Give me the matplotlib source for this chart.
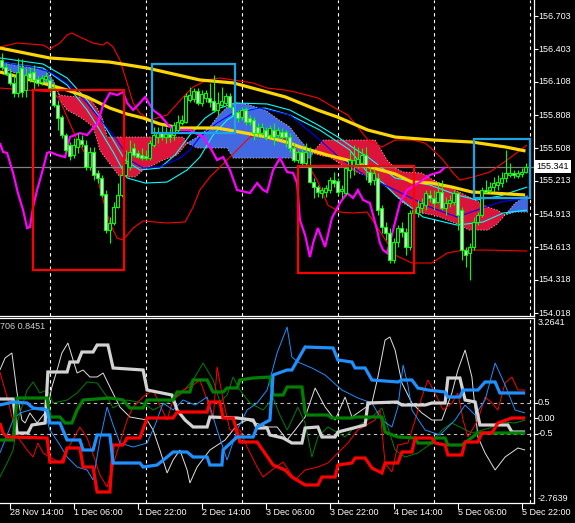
import matplotlib
matplotlib.use('Agg')
import matplotlib.pyplot as plt
import numpy as np
from matplotlib.patches import Rectangle

plt.rcParams['font.family'] = ['Liberation Sans', 'DejaVu Sans']

# ---- main window: H1 candles (bar index 0..131) ----
opens = [156.306, 156.242, 156.188, 156.098, 156.007, 156.233, 156.034, 156.188, 156.197, 156.134,
         156.107, 156.134, 156.125, 156.052, 155.899, 155.790, 155.627, 155.537, 155.447, 155.519,
         155.582, 155.537, 155.338, 155.474, 155.284, 155.239, 155.094, 154.768, 154.832, 154.976,
         155.085, 155.266, 155.338, 155.510, 155.465, 155.447, 155.437, 155.419, 155.537, 155.609,
         155.645, 155.609, 155.636, 155.627, 155.672, 155.736, 155.745, 155.944, 155.953, 156.025,
         155.917, 155.962, 155.962, 155.935, 155.853, 155.899, 155.917, 155.980, 155.881, 155.835,
         155.790, 155.853, 155.781, 155.763, 155.700, 155.645, 155.672, 155.627, 155.672, 155.627,
         155.654, 155.654, 155.609, 155.510, 155.401, 155.474, 155.374, 155.338, 155.202, 155.157,
         155.103, 155.112, 155.130, 155.220, 155.211, 155.121, 155.103, 155.311, 155.356, 155.365,
         155.374, 155.447, 155.293, 155.220, 155.239, 154.967, 154.795, 154.741, 154.497, 154.660,
         154.786, 154.750, 154.615, 154.922, 154.922, 154.967, 154.994, 155.085, 155.058, 155.021,
         155.112, 154.967, 155.012, 155.021, 155.103, 154.949, 154.587, 154.560, 154.615, 154.841,
         154.904, 155.130, 155.130, 155.157, 155.175, 155.193, 155.239, 155.266, 155.284, 155.257,
         155.275, 155.293]
closes = [156.242, 156.179, 156.098, 156.007, 156.197, 156.016, 156.170, 156.143, 156.125, 156.098,
          156.143, 156.161, 156.052, 155.899, 155.781, 155.627, 155.492, 155.437, 155.537, 155.591,
          155.546, 155.338, 155.474, 155.266, 155.239, 155.085, 154.768, 154.832, 154.976, 155.085,
          155.266, 155.374, 155.474, 155.447, 155.428, 155.419, 155.419, 155.555, 155.627, 155.645,
          155.609, 155.636, 155.609, 155.718, 155.745, 155.763, 155.980, 155.989, 156.025, 155.917,
          155.998, 156.007, 155.926, 155.853, 155.917, 155.935, 155.980, 155.881, 155.808, 155.781,
          155.853, 155.745, 155.745, 155.645, 155.645, 155.700, 155.609, 155.691, 155.609, 155.672,
          155.609, 155.609, 155.510, 155.401, 155.474, 155.374, 155.474, 155.202, 155.157, 155.112,
          155.130, 155.148, 155.220, 155.193, 155.112, 155.139, 155.329, 155.401, 155.401, 155.410,
          155.447, 155.356, 155.202, 155.284, 154.949, 154.795, 154.741, 154.497, 154.660, 154.786,
          154.750, 154.615, 154.922, 154.949, 154.976, 155.012, 155.103, 155.058, 155.012, 155.112,
          154.967, 155.012, 155.040, 155.103, 154.904, 154.587, 154.542, 154.615, 154.841, 154.904,
          155.130, 155.112, 155.157, 155.193, 155.202, 155.239, 155.284, 155.284, 155.266, 155.284,
          155.293, 155.341]
highs = [156.369, 156.278, 156.233, 156.170, 156.324, 156.315, 156.233, 156.242, 156.260, 156.161,
         156.170, 156.197, 156.143, 156.098, 155.944, 155.808, 155.645, 155.564, 155.600, 155.645,
         155.627, 155.582, 155.519, 155.519, 155.311, 155.266, 155.130, 154.886, 155.021, 155.193,
         155.356, 155.492, 155.582, 155.555, 155.492, 155.510, 155.492, 155.582, 155.700, 155.700,
         155.718, 155.700, 155.691, 155.745, 155.808, 155.808, 156.007, 156.061, 156.052, 156.052,
         156.034, 156.034, 156.098, 156.170, 156.016, 156.061, 156.007, 156.007, 155.899, 155.853,
         155.881, 155.881, 155.808, 155.790, 155.736, 155.736, 155.700, 155.718, 155.736, 155.700,
         155.691, 155.672, 155.645, 155.555, 155.492, 155.510, 155.555, 155.519, 155.239, 155.175,
         155.157, 155.175, 155.248, 155.293, 155.239, 155.175, 155.356, 155.492, 155.537, 155.519,
         155.510, 155.519, 155.356, 155.329, 155.284, 154.994, 154.841, 154.786, 154.696, 154.813,
         154.841, 154.786, 154.949, 154.994, 155.040, 155.058, 155.130, 155.130, 155.130, 155.202,
         155.220, 155.067, 155.085, 155.130, 155.112, 154.976, 154.615, 154.651, 154.886, 154.931,
         155.157, 155.220, 155.202, 155.248, 155.266, 155.293, 155.492, 155.374, 155.311, 155.311,
         155.329, 155.374]
lows = [156.215, 156.170, 156.079, 155.971, 155.971, 155.971, 155.971, 156.107, 156.034, 156.070,
        156.079, 156.107, 156.016, 155.881, 155.672, 155.600, 155.474, 155.401, 155.419, 155.465,
        155.519, 155.311, 155.311, 155.220, 155.193, 155.067, 154.741, 154.651, 154.813, 154.967,
        155.067, 155.248, 155.311, 155.428, 155.419, 155.401, 155.401, 155.401, 155.519, 155.555,
        155.582, 155.555, 155.564, 155.582, 155.654, 155.718, 155.736, 155.926, 155.926, 155.899,
        155.890, 155.926, 155.881, 155.835, 155.808, 155.881, 155.899, 155.871, 155.790, 155.745,
        155.763, 155.718, 155.718, 155.582, 155.609, 155.627, 155.582, 155.600, 155.537, 155.600,
        155.582, 155.519, 155.474, 155.383, 155.374, 155.338, 155.338, 155.193, 155.058, 155.067,
        155.058, 155.067, 155.103, 155.157, 155.085, 155.058, 155.085, 155.239, 155.266, 155.329,
        155.338, 155.220, 155.175, 155.175, 154.904, 154.741, 154.678, 154.470, 154.470, 154.615,
        154.705, 154.542, 154.587, 154.877, 154.886, 154.922, 154.949, 155.021, 154.949, 155.012,
        154.949, 154.904, 154.976, 154.994, 154.768, 154.497, 154.434, 154.316, 154.587, 154.813,
        154.886, 155.103, 155.103, 155.112, 155.130, 155.157, 155.202, 155.248, 155.239, 155.239,
        155.248, 155.284]
last_price = 155.341

# ---- main window indicator lines: (bar, price) ----
ma_slow = [(-0.4, 156.414), (12, 156.324), (27, 156.287), (36.4, 156.233), (49.6, 156.125), (58, 156.098),
           (71, 155.971), (79, 155.853), (84, 155.790), (91.6, 155.672), (98.4, 155.609), (108, 155.582),
           (117.6, 155.564), (126, 155.519), (131, 155.483)]
ma_fast = [(-0.4, 156.197), (12.1, 156.079), (16.4, 156.034), (21.4, 155.971), (27.1, 155.871), (31.4, 155.817),
           (35.4, 155.781), (39.6, 155.727), (44.6, 155.691), (53.9, 155.691), (59.6, 155.654), (66.4, 155.609),
           (72.1, 155.555), (74.6, 155.519), (81.4, 155.447), (86.4, 155.401), (92.1, 155.338), (98.4, 155.275),
           (102.6, 155.202), (107.6, 155.193), (112.6, 155.157), (117.6, 155.112), (122.6, 155.103), (130.9, 155.085)]
cyan_up = [(-0.4, 156.324), (10.4, 156.269), (16.4, 156.143), (21.4, 155.944), (24.6, 155.781), (27.9, 155.582),
           (30.9, 155.401), (34.6, 155.311), (39.6, 155.329), (43.4, 155.447), (47.1, 155.627), (50.9, 155.781),
           (54.6, 155.871), (58.4, 155.917), (66.4, 155.908), (72.1, 155.853), (79.1, 155.718), (84.1, 155.609),
           (87.6, 155.519), (91.6, 155.428), (98.4, 155.239), (107.1, 155.175), (113.9, 155.085), (118.9, 155.040),
           (124.6, 155.076), (131.4, 155.157)]
blue_ma = [(-0.4, 156.287), (7.9, 156.242), (12.1, 156.197), (16.4, 156.098), (21.4, 155.917), (25.4, 155.736),
           (28.9, 155.582), (32.1, 155.401), (35.4, 155.329), (39.6, 155.338), (44.6, 155.419), (47.1, 155.492),
           (49.6, 155.609), (53.9, 155.736), (57.9, 155.826), (64.6, 155.871), (72.1, 155.808), (79.6, 155.582),
           (84.6, 155.419), (91.4, 155.248), (98.4, 155.130), (107.1, 154.976), (113.9, 154.886), (118.9, 154.949),
           (124.6, 155.021), (131.4, 155.058)]
cyan_lo = [(-0.4, 156.287), (10.4, 156.233), (16.4, 156.079), (21.4, 155.853), (24.6, 155.672), (27.9, 155.474),
           (31.4, 155.239), (35.9, 155.193), (41.4, 155.202), (46.4, 155.311), (49.6, 155.428), (52.9, 155.627),
           (56.4, 155.763), (60.4, 155.853), (65.9, 155.871), (72.1, 155.808), (79.6, 155.672), (87.1, 155.492),
           (91.4, 155.293), (95.4, 155.193), (98.4, 155.085), (105.4, 154.886), (113.9, 154.813), (120.4, 154.841),
           (125.4, 154.922), (131.4, 154.949)]
band_up = [(-0.4, 156.423), (3.9, 156.459), (10.4, 156.441), (12.1, 156.405), (14.6, 156.459), (16.4, 156.532),
           (17.6, 156.550), (19.6, 156.513), (22.9, 156.459), (25.4, 156.441), (26.4, 156.468), (27.9, 156.423),
           (29.6, 156.306), (31.4, 156.098), (32.9, 155.917), (34.6, 155.826), (37.1, 155.763), (41.4, 155.808),
           (45.4, 155.971), (47.9, 156.061), (51.4, 156.125), (54.6, 156.143), (57.9, 156.125), (62.9, 156.098),
           (66.4, 156.052), (70.9, 156.034), (73.4, 156.016), (79.1, 155.962), (83.4, 155.871), (86.6, 155.808),
           (89.1, 155.700), (91.6, 155.582), (95.1, 155.519), (98.4, 155.582), (102.6, 155.582), (105.9, 155.555),
           (107.9, 155.492), (110.4, 155.401), (112.9, 155.284), (114.6, 155.220), (117.9, 155.248), (122.1, 155.293),
           (126.4, 155.401), (131.4, 155.537)]
band_lo = [(-0.4, 156.052), (6.4, 156.034), (12.9, 156.016), (14.6, 155.944), (16.4, 155.790), (18.9, 155.582),
           (21.4, 155.428), (23.9, 155.248), (25.4, 155.040), (27.1, 154.832), (28.9, 154.696), (30.4, 154.678),
           (32.9, 154.786), (35.4, 154.850), (41.4, 154.832), (45.9, 154.841), (47.9, 154.976), (49.6, 155.130),
           (52.1, 155.248), (56.4, 155.401), (62.1, 155.609), (67.1, 155.672), (71.4, 155.582), (75.4, 155.428),
           (78.9, 155.220), (81.6, 154.994), (84.6, 154.931), (87.9, 154.922), (91.4, 154.931), (94.1, 154.786),
           (98.4, 154.542), (102.6, 154.470), (107.6, 154.470), (111.4, 154.560), (115.4, 154.587), (122.1, 154.587),
           (131.4, 154.578)]
magenta = [(-0.4, 155.555), (0.4, 155.474), (1.4, 155.465), (2.9, 155.284), (4.1, 155.103), (5.4, 154.949),
           (6.4, 154.786), (7.1, 154.795), (7.9, 154.976), (8.9, 155.130), (10.1, 155.284), (11.4, 155.465),
           (12.1, 155.474), (13.9, 155.447), (15.9, 155.428), (17.1, 155.609), (19.6, 155.645), (21.4, 155.627),
           (22.9, 155.691), (24.1, 155.736), (25.4, 155.899), (27.1, 156.007), (28.9, 155.989), (30.4, 156.016),
           (31.4, 155.917), (32.9, 155.853), (34.6, 155.917), (35.9, 155.971), (37.9, 155.853), (39.6, 155.808),
           (42.1, 155.700), (43.9, 155.672), (47.1, 155.672), (50.4, 155.609), (52.1, 155.519), (53.9, 155.401),
           (55.4, 155.428), (57.1, 155.311), (58.9, 155.130), (62.1, 155.103), (63.9, 155.193), (65.4, 155.130),
           (66.4, 155.112), (67.9, 155.311), (69.6, 155.419), (71.4, 155.293), (72.9, 155.284), (73.9, 155.193),
           (74.6, 154.859), (75.9, 154.723), (77.1, 154.524), (77.9, 154.651), (79.1, 154.786), (80.9, 154.615),
           (82.6, 154.877), (84.6, 155.012), (86.4, 155.103), (87.9, 155.058), (89.1, 155.130), (90.4, 155.040),
           (92.1, 155.012), (93.9, 154.768), (94.6, 154.651), (95.4, 154.587), (96.4, 154.560), (97.9, 154.768),
           (99.6, 155.012), (101.4, 155.130), (102.6, 155.157), (104.6, 155.202), (107.1, 155.266), (109.6, 155.293),
           (110.9, 155.338)]

# cloud spans on a shared bar grid
cloud_k = [-0.4, 4.6, 7.9, 10.9, 12.9, 13.9, 14.6, 16.4, 19.6, 21.4, 22.9, 23.9, 24.6, 25.4, 26.4, 29.6, 33.4,
           35.4, 40.4, 43.9, 45.4, 46.4, 48.9, 52.1, 53.9, 56.4, 57.9, 58.9, 62.1, 65.9, 69.4, 72.1, 74.6, 77.1,
           78.4, 80.4, 82.1, 85.9, 89.4, 93.4, 96.4, 98.4, 100.4, 105.1, 107.9, 109.6, 113.4, 116.9, 121.6,
           123.9, 125.9, 128.4, 131.6]
span_a = [156.287, 156.251, 156.233, 156.215, 156.125, 156.034, 155.944, 155.853, 155.790, 155.745, 155.700,
          155.582, 155.492, 155.447, 155.401, 155.248, 155.248, 155.311, 155.401, 155.447, 155.510, 155.555,
          155.609, 155.700, 155.790, 155.881, 155.908, 155.917, 155.899, 155.853, 155.763, 155.700, 155.582,
          155.483, 155.456, 155.437, 155.428, 155.338, 155.284, 155.220, 155.157, 155.085, 155.012, 154.922,
          154.904, 154.886, 154.832, 154.768, 154.768, 154.823, 154.904, 155.012, 155.085]
span_b = [156.242, 156.170, 156.125, 156.107, 156.079, 156.034, 155.989, 155.980, 155.971, 155.971, 155.917,
          155.871, 155.817, 155.763, 155.609, 155.609, 155.609, 155.609, 155.609, 155.609, 155.609, 155.555,
          155.510, 155.510, 155.510, 155.510, 155.419, 155.419, 155.419, 155.419, 155.419, 155.419, 155.419,
          155.419, 155.492, 155.582, 155.582, 155.582, 155.582, 155.582, 155.401, 155.329, 155.293, 155.284,
          155.220, 155.193, 155.130, 155.067, 154.976, 154.949, 154.904, 154.931, 154.931]

# drawn boxes: (bar from, bar to, price low, price high)
red_boxes = [(7.9, 30.6, 154.407, 156.034), (74.1, 103.1, 154.380, 155.347)]
blue_boxes = [(37.6, 58.4, 155.645, 156.269), (118.1, 132.1, 155.058, 155.591)]

price_ticks = [156.703, 156.403, 156.108, 155.808, 155.508, 155.213, 154.913, 154.613, 154.318, 154.018]
day_breaks = [12, 36, 60, 84, 108, 132]
time_ticks = [-14, 2, 18, 34, 50, 66, 82, 98, 114, 130]
time_labels = ['27 Nov 22:00', '28 Nov 14:00', '1 Dec 06:00', '1 Dec 22:00', '2 Dec 14:00',
               '3 Dec 06:00', '3 Dec 22:00', '4 Dec 14:00', '5 Dec 06:00', '5 Dec 22:00']

# ---- lower window: (bar, value) ----
gray_thick = [(-0.4, 0.625), (2.9, 0.625), (3.9, -0.483), (6.6, -0.483), (7.6, -0.222), (10.9, -0.157),
              (11.6, 1.505), (16.4, 1.505), (17.1, 1.830), (19.1, 1.830), (20.1, 2.156), (22.9, 2.156),
              (23.9, 2.384), (26.6, 2.384), (27.9, 1.635), (35.4, 1.570), (36.4, 0.918), (42.6, 0.755),
              (43.9, 0.266), (45.9, -0.060), (47.9, -0.287), (51.4, -0.287), (52.1, 0.038), (58.9, 0.006),
              (62.9, -0.060), (63.9, -0.320), (66.4, -0.320), (67.1, -0.548), (70.4, -0.646), (72.6, -0.809),
              (75.1, -0.809), (75.9, -0.320), (79.1, -0.287), (80.1, -0.613), (83.4, -0.613), (84.1, -0.451),
              (90.9, -0.222), (91.6, 0.494), (98.9, 0.527), (100.1, 0.429), (105.9, 0.429), (107.6, 0.494),
              (110.9, 0.494), (111.6, 1.309), (114.6, 1.309), (115.9, 0.592), (118.4, 0.527), (119.6, -0.222),
              (126.6, -0.222), (127.6, -0.451), (130.9, -0.451)]
green_thick = [(-0.4, -0.711), (2.9, -0.711), (3.9, 0.657), (11.4, 0.657), (12.1, 0.038), (14.6, 0.038),
               (15.9, -0.157), (17.6, -0.157), (18.9, 0.266), (20.4, 0.592), (27.1, 0.657), (30.4, 0.592),
               (32.1, 0.332), (35.4, 0.332), (36.4, 0.592), (42.9, 0.592), (43.9, 0.853), (47.1, 0.853),
               (47.9, 1.244), (51.4, 1.244), (52.9, 0.853), (55.4, 0.853), (56.4, 0.983), (58.9, 0.983),
               (59.6, 1.244), (62.9, 1.309), (67.1, 1.342), (67.9, 0.755), (70.4, 0.755), (71.4, 1.016),
               (75.1, 1.016), (75.9, 0.169), (76.6, 0.103), (81.6, 0.103), (82.6, 0.006), (87.6, 0.006),
               (88.4, 0.038), (95.1, 0.038), (95.9, -0.451), (99.1, -0.613), (103.4, -0.646), (104.1, -0.809),
               (107.6, -0.809), (108.4, -0.646), (110.9, -0.646), (111.6, -0.874), (115.1, -0.874),
               (119.1, -0.483), (130.9, -0.483)]
red_thick = [(-0.4, -0.157), (0.4, -0.483), (1.4, -0.613), (11.4, -0.646), (12.1, -1.428), (15.4, -1.428),
             (16.4, -0.972), (19.6, -0.972), (20.4, -1.591), (22.9, -1.591), (23.9, -2.405), (27.1, -2.405),
             (27.9, -0.874), (30.4, -0.874), (31.4, -0.646), (34.6, -0.646), (36.4, 0.006), (42.9, 0.006),
             (43.9, 0.201), (51.4, 0.201), (52.1, 0.527), (54.6, 0.527), (55.4, 0.006), (57.9, 0.006),
             (59.6, -0.776), (63.9, -0.776), (67.9, -1.526), (70.9, -1.689), (72.6, -1.917), (75.1, -2.112),
             (75.9, -2.177), (79.1, -2.177), (80.1, -1.917), (83.4, -1.917), (84.1, -1.526), (87.6, -1.461),
             (88.4, -1.298), (90.9, -1.298), (92.6, -1.624), (95.1, -1.786), (95.9, -1.461), (99.1, -1.461),
             (100.1, -1.102), (102.6, -1.102), (103.4, -0.646), (107.6, -0.646), (108.4, -0.809),
             (110.9, -0.874), (111.6, -1.200), (115.1, -1.200), (115.9, -0.776), (119.1, -0.776),
             (120.1, -0.483), (122.6, -0.483), (124.1, -0.157), (127.6, 0.006), (130.9, 0.006)]
blue_thick = [(-0.4, 0.429), (2.9, 0.527), (6.4, 0.494), (7.9, 0.332), (11.4, 0.266), (12.1, -0.157),
              (14.6, -0.157), (16.4, -0.711), (19.6, -0.711), (20.4, -1.037), (22.9, -1.037), (23.9, -0.548),
              (27.1, -0.548), (27.9, -1.461), (34.6, -1.461), (35.4, -1.591), (38.9, -1.526), (41.4, -1.265),
              (42.9, -1.102), (46.4, -1.102), (47.9, -1.265), (51.4, -1.265), (52.1, -1.526), (55.1, -1.526),
              (55.4, -1.037), (58.9, -0.613), (62.9, -0.613), (63.9, -0.287), (67.1, -0.060), (67.9, 1.407),
              (71.4, 1.570), (72.6, 1.570), (75.9, 2.319), (82.9, 2.287), (84.1, 1.896), (87.6, 1.830),
              (88.4, 1.635), (90.9, 1.635), (92.6, 1.244), (99.1, 1.179), (100.1, 1.244), (102.6, 1.244),
              (104.1, 0.983), (106.6, 0.918), (110.9, 0.853), (111.6, 0.690), (114.6, 0.690), (115.4, 0.918),
              (119.1, 0.918), (120.9, 1.179), (123.4, 1.179), (124.6, 0.821), (130.9, 0.821)]
gray_thin = [(-0.4, 1.570), (0.9, 1.961), (2.6, 2.124), (3.9, 0.821), (5.1, -0.060), (5.9, -0.157), (7.1, 0.169),
             (8.9, -0.157), (11.4, 0.266), (12.6, 1.016), (13.9, 1.570), (15.1, 2.124), (16.6, 2.449),
             (17.9, 1.896), (18.9, 1.472), (20.4, 1.570), (22.1, 1.342), (23.9, 1.342), (25.4, 1.472),
             (27.1, 1.016), (29.6, 0.364), (32.1, 0.038), (36.4, -0.060), (37.9, -0.385), (39.6, -1.037),
             (41.4, -1.786), (42.9, -1.363), (44.6, -1.037), (46.4, -1.689), (47.1, -2.112), (48.9, -1.591),
             (52.1, -1.037), (55.9, -0.711), (58.9, -0.222), (61.4, -0.060), (66.4, -0.287), (68.9, -0.287),
             (71.4, -0.711), (73.4, -0.385), (75.9, 0.038), (78.4, 0.983), (80.9, 0.364), (83.4, -0.060),
             (85.9, 0.690), (87.6, 0.038), (92.6, 0.494), (94.1, 1.342), (95.9, 2.547), (97.1, 2.645),
             (98.4, 2.221), (100.1, 1.146), (102.6, 0.494), (105.1, 0.169), (107.6, -0.060), (110.1, -0.060),
             (112.6, 0.821), (114.1, 1.570), (115.9, 2.221), (117.6, 1.342), (119.1, -0.613), (120.9, -1.135),
             (123.4, -1.689), (125.9, -1.265), (129.1, -0.972), (130.9, -1.037)]
green_thin = [(-0.4, -1.917), (1.4, -1.461), (2.9, -1.037), (4.1, -0.060), (6.4, 0.918), (7.9, 1.179),
              (9.6, 0.821), (11.4, 0.918), (12.9, 0.494), (16.4, 0.592), (18.9, 0.821), (21.4, 1.179),
              (23.9, 1.146), (26.4, 0.690), (27.9, 0.332), (31.4, 0.592), (35.4, 0.494), (37.9, 0.266),
              (41.4, 0.494), (44.6, 0.755), (47.9, 1.244), (50.4, 1.798), (52.9, 1.244), (54.6, 0.527),
              (56.4, 0.755), (57.9, 1.342), (59.6, 0.918), (62.1, 0.494), (65.4, 0.266), (67.9, 0.657),
              (69.6, 0.103), (71.4, -0.385), (72.6, -0.060), (74.1, 0.364), (75.9, -0.157), (77.6, -1.265),
              (79.1, -0.613), (81.6, -0.287), (85.9, -0.613), (87.6, -0.385), (92.6, 0.038), (95.1, 0.332),
              (96.4, -0.222), (98.4, -1.037), (100.9, -1.265), (104.1, -1.135), (107.6, -0.809),
              (110.1, -0.385), (112.6, -0.157), (115.1, -0.320), (117.6, -0.483), (122.1, -0.320),
              (125.1, -0.125), (128.4, -0.157), (130.9, -0.060)]
red_thin = [(-0.4, 1.505), (1.6, 0.592), (3.4, -0.385), (4.6, -0.711), (6.4, -1.037), (7.9, -1.265), (9.1, -0.809),
            (10.4, -1.135), (12.1, -1.265), (14.6, -1.461), (17.1, -0.874), (19.6, -0.287), (21.4, -0.646),
            (23.4, -1.363), (24.6, -1.851), (26.4, -2.242), (27.9, -1.526), (29.6, -0.809), (31.4, -0.060),
            (32.9, 0.364), (35.4, 0.690), (37.9, 0.918), (39.6, 0.429), (41.4, -0.060), (42.9, 0.592),
            (45.4, 0.918), (47.9, 1.081), (49.6, 1.244), (51.4, 0.592), (52.9, -0.060), (53.9, 1.668),
            (55.4, 0.592), (57.1, -0.385), (59.6, -0.385), (61.4, -0.939), (63.9, -1.591), (65.4, -1.917),
            (67.6, -1.689), (70.4, -1.428), (73.4, -2.014), (75.9, -1.689), (79.1, -1.591), (81.6, -1.461),
            (84.1, -1.135), (86.6, -0.809), (89.1, -0.385), (93.4, -0.060), (94.6, 0.266), (95.9, -1.461),
            (97.6, -1.754), (99.1, -0.874), (101.6, -0.809), (103.4, -0.060), (105.1, 0.690), (106.6, 1.244),
            (108.4, 0.821), (110.4, 0.266), (112.6, 0.494), (114.1, 0.821), (115.4, -0.060), (116.6, -0.613),
            (119.1, -0.060), (120.9, 0.690), (122.6, 0.494), (124.1, 0.266), (125.9, 1.146), (127.6, 1.342),
            (129.1, 0.918), (130.9, 0.918)]
blue_thin = [(-0.4, -1.135), (1.4, -0.548), (2.9, -0.060), (4.6, 0.169), (7.1, 0.266), (10.4, 0.364),
             (12.1, -0.385), (14.6, -0.874), (16.4, -1.265), (18.9, -1.591), (21.4, -1.689), (22.9, -2.014),
             (24.6, -0.711), (26.4, 0.364), (27.9, -0.222), (29.6, -0.809), (32.9, -0.939), (36.4, -0.809),
             (38.4, -0.222), (40.4, 0.494), (42.9, 0.266), (45.4, 0.592), (48.4, 0.429), (51.4, 0.690),
             (53.9, -0.385), (56.4, -1.363), (58.9, -0.385), (61.4, 0.266), (63.9, 0.494), (66.4, 0.918),
             (68.9, 2.124), (71.4, 2.971), (72.6, 1.993), (74.1, 1.830), (77.6, 1.635), (80.9, 1.407),
             (85.1, 0.918), (89.1, 0.657), (92.6, 0.494), (95.1, -0.060), (97.6, -0.287), (99.1, 0.364),
             (100.4, 1.733), (101.6, 1.081), (102.6, 0.266), (105.9, -0.385), (109.6, -0.548), (113.4, -0.060),
             (115.9, 0.429), (118.4, 0.103), (120.9, 0.592), (123.4, 1.798), (125.9, 1.081), (128.4, 0.266),
             (130.9, 0.169)]
sub_max, sub_min = 3.2641, -2.7639
sub_levels = [0.5, -0.5]
sub_caption = '706 0.8451'

# ---------------------------------------------------------------
W, H = 575, 523
fig = plt.figure(figsize=(W / 100, H / 100), dpi=100, facecolor='black')
ax = fig.add_axes([0, 1 - 316 / H, 534 / W, 316 / H], facecolor='black')
ax2 = fig.add_axes([0, 1 - 503 / H, 534 / W, 185 / H], facecolor='black')

xlim = (-0.375, 133.125)
fs = 6.5
lime = '#00FF00'

def pl(a, pts, **kw):
    x, y = zip(*pts)
    a.plot(x, y, solid_capstyle='butt', solid_joinstyle='miter', **kw)

# cloud
ck = np.array(cloud_k)
sa = np.array(span_a)
sb = np.array(span_b)
ax.fill_between(ck, sa, sb, where=sa >= sb, interpolate=True, color='#4169E1', lw=0, zorder=1)
ax.fill_between(ck, sa, sb, where=sa < sb, interpolate=True, color='#DC143C', lw=0, zorder=1)
ax.plot(ck, sa, color='#E8B8A8', lw=0.6, ls=(0, (1.5, 2)), zorder=1.2)
ax.plot(ck, sb, color='#E8B8A8', lw=0.6, ls=(0, (1.5, 2)), zorder=1.2)

ax.axhline(last_price, color='#808080', lw=0.9, zorder=1.5)
for d in day_breaks:
    ax.axvline(d, color='white', lw=0.8, ls=(0, (3, 3)), zorder=0.5)
    ax2.axvline(d, color='white', lw=0.8, ls=(0, (3, 3)), zorder=0.5)

pl(ax, band_up, color='#FF0000', lw=0.8, zorder=2)
pl(ax, band_lo, color='#FF0000', lw=0.8, zorder=2)
pl(ax, cyan_up, color='#00FFFF', lw=0.8, zorder=2)
pl(ax, cyan_lo, color='#00FFFF', lw=0.8, zorder=2)
pl(ax, blue_ma, color='#0000FF', lw=0.8, zorder=2)
pl(ax, ma_slow, color='#FFD700', lw=2.3, zorder=2.5)
pl(ax, ma_fast, color='#FFD700', lw=2.3, zorder=2.5)
pl(ax, magenta, color='#FF00FF', lw=1.6, zorder=2.6)

# candles
o = np.array(opens)
c = np.array(closes)
bars = np.arange(len(o))
ax.vlines(bars, lows, highs, color=lime, lw=0.8, zorder=3)
body = np.maximum(np.abs(c - o), 0.002)
fills = np.where(c < o, 'white', 'black')
ax.bar(bars, body, bottom=np.minimum(o, c), width=0.6, color=fills,
       edgecolor=lime, linewidth=0.8, zorder=3.2)

for x0, x1, y0, y1 in red_boxes:
    ax.add_patch(Rectangle((x0, y0), x1 - x0, y1 - y0, fill=False, ec='#FF0000', lw=1.6, zorder=4))
for x0, x1, y0, y1 in blue_boxes:
    ax.add_patch(Rectangle((x0, y0), x1 - x0, y1 - y0, fill=False, ec='#1AA6E6', lw=1.6, zorder=4))

# lower window
pl(ax2, gray_thin, color='#E0E0E0', lw=0.7, zorder=2)
pl(ax2, green_thin, color='#008000', lw=0.7, zorder=2)
pl(ax2, red_thin, color='#FF0000', lw=0.7, zorder=2)
pl(ax2, blue_thin, color='#1E90FF', lw=0.7, zorder=2)
pl(ax2, gray_thick, color='#D3D3D3', lw=2.3, zorder=3)
pl(ax2, green_thick, color='#008000', lw=2.3, zorder=3)
pl(ax2, red_thick, color='#FF0000', lw=2.3, zorder=3)
pl(ax2, blue_thick, color='#1E90FF', lw=2.3, zorder=3)
for lv in sub_levels:
    ax2.axhline(lv, color='#C0C0C0', lw=0.8, ls=(0, (3, 3)), zorder=1)
ax2.set_ylim(sub_min, sub_max)
ax2.text(0.0, sub_max - 0.12, sub_caption, transform=ax2.get_yaxis_transform(), color='#D0D0D0',
         fontsize=fs, ha='left', va='top')

# frames, ticks, labels
for a in (ax, ax2):
    for s in a.spines.values():
        s.set_color('white')
        s.set_linewidth(0.9)
    a.spines['left'].set_visible(False)
    a.tick_params(left=False, labelleft=False, bottom=False, labelbottom=False,
                  right=True, labelright=False, direction='out', length=3, color='white', width=0.8)
ax.spines['top'].set_visible(False)

ax.set_yticks(price_ticks)
ax.set_ylim(153.991, 156.848)
xr = 538 / 534
for p in price_ticks:
    ax.text(xr, p, f'{p:.3f}', transform=ax.get_yaxis_transform(), color='white',
            fontsize=fs, ha='left', va='center')
ax.text(536 / 534, last_price, f'{last_price:.3f}', transform=ax.get_yaxis_transform(),
        color='black', fontsize=fs, ha='left', va='center', zorder=10, clip_on=False,
        bbox=dict(boxstyle='square,pad=0.25', facecolor='white', edgecolor='none'))

ax2.set_yticks([0.5, 0.0, -0.5])
ax2.set_ylim(sub_min, sub_max)
for v, s in [(0.5, '0.5'), (0.0, '0.00'), (-0.5, '-0.5')]:
    ax2.text(xr, v, s, transform=ax2.get_yaxis_transform(), color='white', fontsize=fs,
             ha='left', va='center')
ax2.text(xr, sub_max, f'{sub_max:.4f}', transform=ax2.get_yaxis_transform(), color='white',
         fontsize=fs, ha='left', va='top')
ax2.text(xr, sub_min, f'{sub_min:.4f}', transform=ax2.get_yaxis_transform(), color='white',
         fontsize=fs, ha='left', va='bottom')

ax2.set_xticks(time_ticks)
ax2.tick_params(axis='x', bottom=True, length=4, direction='out', color='white', width=0.8)
ax.set_xlim(*xlim)
ax2.set_xlim(*xlim)
for t, lab in zip(time_ticks, time_labels):
    ax2.text(t + 0.2, -0.025, lab, transform=ax2.get_xaxis_transform(), color='white',
             fontsize=fs, ha='left', va='top', clip_on=False)

fig.savefig('out.png', dpi=100, facecolor='black')
